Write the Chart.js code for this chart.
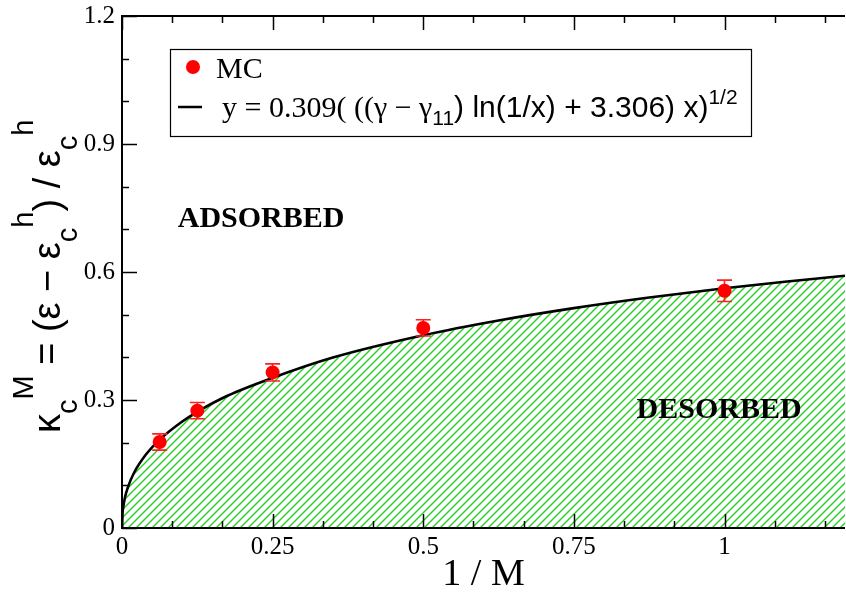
<!DOCTYPE html>
<html>
<head>
<meta charset="utf-8">
<script src="https://cdn.jsdelivr.net/npm/chart.js@4.4.1/dist/chart.umd.min.js"></script>
<style>
  html, body { margin: 0; padding: 0; background: #ffffff; overflow: hidden; width: 846px; height: 595px; }
  #wrap { width: 852px; height: 595px; }
  canvas { display: block; }
</style>
</head>
<body>
<div id="wrap"><canvas id="c" width="852" height="595"></canvas></div>
<script>
// ---- data ----
const mcX   = [0.0625, 0.125, 0.25, 0.5, 1.0];
const mcY   = [0.2015, 0.275, 0.3647, 0.469, 0.556];
const mcErr = [0.019, 0.019, 0.020, 0.019, 0.025];

const fitX = [0, 0.0005, 0.002, 0.005, 0.01, 0.02, 0.04, 0.0625, 0.1, 0.125, 0.175, 0.25, 0.35, 0.5, 0.625, 0.75, 0.875, 1.0, 1.1, 1.2];
const fitY = [0, 0.026, 0.048, 0.072, 0.0965, 0.1295, 0.1727, 0.2071, 0.2497, 0.2724, 0.3099, 0.3520, 0.3995, 0.4518, 0.4864, 0.5153, 0.5402, 0.5618, 0.5772, 0.5912];

const xTickValues = [0, 0.25, 0.5, 0.75, 1];
const xTickLabels = ['0', '0.25', '0.5', '0.75', '1'];
const yTickValues = [0, 0.3, 0.6, 0.9, 1.2];
const yTickLabels = ['0', '0.3', '0.6', '0.9', '1.2'];

const regionLabels = ['ADSORBED', 'DESORBED'];
const seriesNames = ['MC', 'fit'];

// ---- styling ----
const SERIF = "'Liberation Serif', 'Times New Roman', serif";
const SANS = "'Liberation Sans', Arial, sans-serif";

function hatchPattern(ctx) {
  const c = document.createElement('canvas');
  c.width = 8; c.height = 8;
  const g = c.getContext('2d');
  g.strokeStyle = '#22d022';
  g.lineWidth = 1.4;
  g.beginPath();
  g.moveTo(0, 8); g.lineTo(8, 0);
  g.moveTo(-2, 2); g.lineTo(2, -2);
  g.moveTo(6, 10); g.lineTo(10, 6);
  g.stroke();
  return ctx.createPattern(c, 'repeat');
}

function buildTicks(majors, perMajor, maxVal) {
  const step = (majors[1] - majors[0]) / perMajor;
  const out = [];
  for (let i = 0; i * step <= maxVal + 1e-9; i++) out.push({ value: +(i * step).toFixed(10) });
  return out;
}

function drawRich(ctx, segs, x, y) {
  let cx = x;
  for (const s of segs) {
    ctx.font = s.font;
    ctx.fillText(s.text, cx, y + (s.dy || 0));
    cx += ctx.measureText(s.text).width;
  }
  return cx;
}

const canvas = document.getElementById('c');
const ctx0 = canvas.getContext('2d');

// plugin: error bars for MC (drawn below MC circles)
const errorBars = {
  id: 'errorBars',
  beforeDatasetDraw(chart, args) {
    if (args.index !== 0) return;
    const { ctx, scales: { x, y } } = chart;
    ctx.save();
    ctx.strokeStyle = '#ff2020';
    ctx.lineWidth = 1.6;
    for (let i = 0; i < mcX.length; i++) {
      const px = x.getPixelForValue(mcX[i]);
      const top = y.getPixelForValue(mcY[i] + mcErr[i]);
      const bot = y.getPixelForValue(mcY[i] - mcErr[i]);
      ctx.beginPath();
      ctx.moveTo(px, top); ctx.lineTo(px, bot);
      ctx.moveTo(px - 7.5, top); ctx.lineTo(px + 7.5, top);
      ctx.moveTo(px - 7.5, bot); ctx.lineTo(px + 7.5, bot);
      ctx.stroke();
    }
    ctx.restore();
  }
};

// plugin: frame and inward tick marks from the scales
const frame = {
  id: 'frame',
  afterDatasetsDraw(chart) {
    const { ctx, chartArea: a, scales: { x, y } } = chart;
    ctx.save();
    ctx.strokeStyle = '#000';
    ctx.lineWidth = 1.5;
    x.ticks.forEach((t, i) => {
      const px = Math.round(x.getPixelForValue(t.value)) + 0.5;
      const len = (i % 3 === 0) ? 14 : 7;
      ctx.beginPath(); ctx.moveTo(px, a.bottom); ctx.lineTo(px, a.bottom - len); ctx.stroke();
      ctx.beginPath(); ctx.moveTo(px, a.top); ctx.lineTo(px, a.top + len); ctx.stroke();
    });
    y.ticks.forEach((t, i) => {
      const py = Math.round(y.getPixelForValue(t.value)) + 0.5;
      const len = (i % 3 === 0) ? 15 : 7;
      ctx.beginPath(); ctx.moveTo(a.left, py); ctx.lineTo(a.left + len, py); ctx.stroke();
    });
    ctx.lineWidth = 2;
    ctx.beginPath();
    ctx.moveTo(a.left, a.top); ctx.lineTo(a.right, a.top);
    ctx.moveTo(a.left, a.top - 1); ctx.lineTo(a.left, a.bottom + 1);
    ctx.moveTo(a.left - 1, a.bottom); ctx.lineTo(a.right, a.bottom);
    ctx.stroke();
    ctx.restore();
  }
};

// plugin: legend box, region labels, y-axis title
const decorations = {
  id: 'decorations',
  afterDraw(chart) {
    const { ctx, scales: { x, y } } = chart;
    ctx.save();
    // region labels
    ctx.fillStyle = '#000';
    ctx.textBaseline = 'alphabetic';
    ctx.textAlign = 'left';
    ctx.font = 'bold 30px ' + SERIF;
    ctx.fillText(regionLabels[0], x.getPixelForValue(0.0925), y.getPixelForValue(0.706));
    ctx.fillText(regionLabels[1], x.getPixelForValue(0.854), y.getPixelForValue(0.257));

    // legend box
    ctx.fillStyle = '#fff';
    ctx.fillRect(170, 49, 582, 88);
    ctx.strokeStyle = '#000';
    ctx.lineWidth = 1.2;
    ctx.strokeRect(170.5, 49.5, 581, 87);
    // MC symbol
    ctx.fillStyle = '#ff0000';
    ctx.beginPath(); ctx.arc(193, 67, 7, 0, Math.PI * 2); ctx.fill();
    ctx.fillStyle = '#000';
    ctx.font = '30px ' + SERIF;
    ctx.fillText('MC', 216, 78);
    // fit line symbol
    ctx.strokeStyle = '#000';
    ctx.lineWidth = 2.5;
    ctx.beginPath(); ctx.moveTo(178, 107); ctx.lineTo(202, 107); ctx.stroke();
    drawRich(ctx, [
      { text: 'y = 0.309( ((\u03b3 \u2212 \u03b3', font: '30px ' + SERIF },
      { text: '11', font: '21px ' + SANS, dy: 8 },
      { text: ') ln(1/x) + 3.306) x)', font: '30px ' + SANS },
      { text: '1/2', font: '21px ' + SANS, dy: -13 }
    ], 222, 117);

    // y-axis title (rotated)
    ctx.translate(60, 433);
    ctx.rotate(-Math.PI / 2);
    const main = '38px ' + SANS, scr = '29px ' + SANS;
    drawRich(ctx, [
      { text: '\u03ba', font: main },
      { text: 'c', font: scr, dy: 17 },
      { text: 'M', font: scr, dy: -27 },
      { text: ' = (\u03b5 \u2212 \u03b5', font: main },
      { text: 'c', font: scr, dy: 17 },
      { text: 'h', font: scr, dy: -27 },
      { text: ') / \u03b5', font: main },
      { text: 'c', font: scr, dy: 17 },
      { text: 'h', font: scr, dy: -27 }
    ], 0, 0);
    ctx.restore();
  }
};

new Chart(canvas, {
  type: 'scatter',
  data: {
    datasets: [
      {
        label: seriesNames[0],
        data: mcX.map((v, i) => ({ x: v, y: mcY[i] })),
        showLine: false,
        pointRadius: 7,
        pointHoverRadius: 7,
        pointBackgroundColor: '#ff0000',
        pointBorderColor: '#ff0000',
        pointBorderWidth: 0
      },
      {
        label: seriesNames[1],
        data: fitX.map((v, i) => ({ x: v, y: fitY[i] })),
        showLine: true,
        pointRadius: 0,
        borderColor: '#000',
        borderWidth: 2.6,
        cubicInterpolationMode: 'monotone',
        fill: 'origin',
        backgroundColor: hatchPattern(ctx0)
      }
    ]
  },
  options: {
    responsive: false,
    animation: false,
    events: [],
    layout: { padding: { left: 0, top: 16, right: 0, bottom: 0 } },
    plugins: { legend: { display: false }, tooltip: { enabled: false } },
    scales: {
      x: {
        type: 'linear',
        min: 0, max: 1.2,
        grid: { display: false, drawTicks: false },
        border: { display: false },
        afterBuildTicks: s => { s.ticks = buildTicks(xTickValues, 3, 1.2); },
        afterFit: s => { s.height = 67; s.paddingLeft = 0; s.paddingRight = 0; },
        ticks: {
          autoSkip: false, maxRotation: 0, padding: 4, color: '#000',
          font: { family: SERIF, size: 25 },
          callback: (v, i) => (i % 3 === 0 && i / 3 < xTickLabels.length) ? xTickLabels[i / 3] : ''
        },
        title: {
          display: true, text: '1 / M', color: '#000',
          font: { family: SERIF, size: 38 },
          padding: { top: 0, bottom: -3 }
        }
      },
      y: {
        type: 'linear',
        min: 0, max: 1.2,
        grid: { display: false, drawTicks: false },
        border: { display: false },
        afterBuildTicks: s => { s.ticks = buildTicks(yTickValues, 3, 1.2); },
        afterFit: s => { s.width = 122; s.paddingTop = 0; s.paddingBottom = 0; },
        ticks: {
          autoSkip: false, padding: 7, color: '#000',
          font: { family: SERIF, size: 25 },
          callback: (v, i) => (i % 3 === 0 && i / 3 < yTickLabels.length) ? yTickLabels[i / 3] : ''
        }
      }
    }
  },
  plugins: [errorBars, frame, decorations]
});
</script>
</body>
</html>
